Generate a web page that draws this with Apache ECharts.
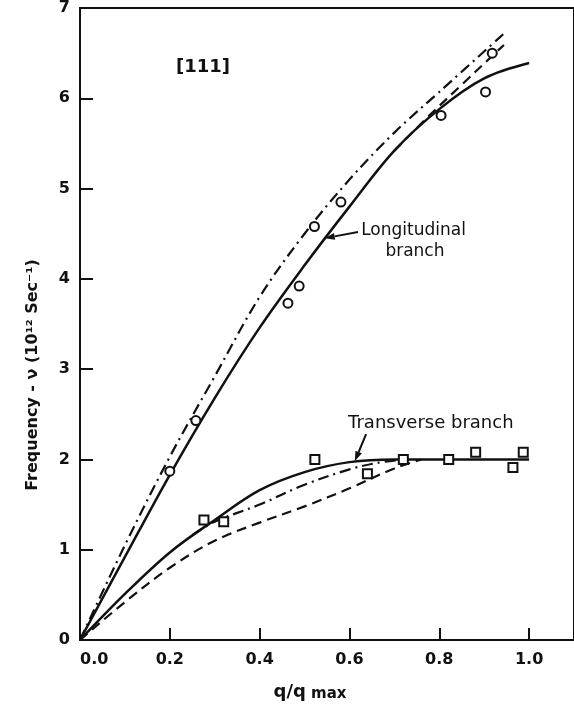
<!DOCTYPE html>
<html><head><meta charset="utf-8">
<script src="https://cdn.jsdelivr.net/npm/echarts@6/dist/echarts.min.js"></script>
<style>html,body{margin:0;padding:0;background:#fff}#c{width:574px;height:704px}</style>
</head><body><div id="c"></div>
<script>
// tick labels
const xTickLabels = ['0.0', '0.2', '0.4', '0.6', '0.8', '1.0'];
const yTickLabels = ['0', '1', '2', '3', '4', '5', '6', '7'];

// measured points
const longCirclesX = [0.200, 0.258, 0.463, 0.488, 0.522, 0.581, 0.804, 0.903, 0.918];
const longCirclesY = [1.87, 2.43, 3.73, 3.92, 4.58, 4.85, 5.81, 6.07, 6.50];
const transSquaresX = [0.276, 0.320, 0.523, 0.640, 0.720, 0.821, 0.881, 0.964, 0.987];
const transSquaresY = [1.33, 1.31, 2.00, 1.84, 2.00, 2.00, 2.08, 1.91, 2.08];

// longitudinal curves
const longSolidX = [0, 0.1, 0.2, 0.3, 0.4, 0.5, 0.6, 0.7, 0.8, 0.9, 1.0];
const longSolidY = [0, 0.92, 1.83, 2.68, 3.46, 4.15, 4.80, 5.42, 5.88, 6.22, 6.39];
const longDashDotX = [0, 0.1, 0.2, 0.3, 0.4, 0.5, 0.6, 0.7, 0.8, 0.947];
const longDashDotY = [0, 1.05, 2.03, 2.92, 3.80, 4.50, 5.10, 5.62, 6.07, 6.73];
const longDashedX = [0.7, 0.78, 0.85, 0.918, 0.944];
const longDashedY = [5.42, 5.82, 6.15, 6.47, 6.59];

// transverse curves
const transSolidX = [0, 0.1, 0.2, 0.3, 0.4, 0.5, 0.6, 0.7, 0.8, 0.9, 1.0];
const transSolidY = [0, 0.51, 0.97, 1.33, 1.66, 1.86, 1.97, 2.00, 2.00, 2.00, 2.00];
const transDashDotX = [0.25, 0.3, 0.4, 0.5, 0.6, 0.66, 0.72];
const transDashDotY = [1.16, 1.31, 1.50, 1.72, 1.89, 1.96, 2.00];
const transDashedX = [0, 0.1, 0.2, 0.3, 0.4, 0.5, 0.6, 0.7, 0.76];
const transDashedY = [0, 0.42, 0.80, 1.10, 1.30, 1.48, 1.68, 1.90, 2.00];

// annotation anchors (data coordinates)
const longArrowTail = [0.619, 4.52], longArrowTip = [0.545, 4.45];
const transArrowTail = [0.637, 2.28], transArrowTip = [0.612, 1.98];

const zip = (xs, ys) => xs.map((x, i) => [x, ys[i]]);
const INK = '#111';
const FONT = 'DejaVu Sans';

const chart = echarts.init(document.getElementById('c'));

function lineSeries(xs, ys, type, width) {
  return {
    type: 'line', data: zip(xs, ys), smooth: 0.35,
    symbol: 'none', silent: true, z: 3,
    lineStyle: { color: INK, width: width, type: type }
  };
}

const option = {
  animation: false,
  backgroundColor: '#fff',
  grid: { left: 80, top: 5, width: 497, height: 635, show: true, borderColor: INK, borderWidth: 2, containLabel: false },
  xAxis: {
    type: 'value', min: 0, max: 1.1, interval: 0.2,
    axisLine: { show: true, lineStyle: { color: INK, width: 2 } },
    axisTick: { show: true, inside: true, length: 12, lineStyle: { color: INK, width: 2 } },
    splitLine: { show: false },
    axisLabel: {
      margin: 12, fontSize: 16, fontWeight: 'bold', fontFamily: FONT, color: INK,
      alignMinLabel: 'left', showMaxLabel: false,
      formatter: v => { const s = v.toFixed(1); return xTickLabels.includes(s) ? s : ''; }
    }
  },
  yAxis: {
    type: 'value', min: 0, max: 7, interval: 1,
    axisLine: { show: true, lineStyle: { color: INK, width: 2 } },
    axisTick: { show: true, inside: true, length: 13, lineStyle: { color: INK, width: 2 } },
    splitLine: { show: false },
    axisLabel: {
      margin: 10, fontSize: 16, fontWeight: 'bold', fontFamily: FONT, color: INK,
      formatter: v => yTickLabels[Math.round(v)] || ''
    }
  },
  series: [
    lineSeries(longSolidX, longSolidY, 'solid', 2.5),
    lineSeries(longDashDotX, longDashDotY, [11, 5, 2, 5], 2.2),
    lineSeries(longDashedX, longDashedY, [10, 6], 2.2),
    lineSeries(transSolidX, transSolidY, 'solid', 2.5),
    lineSeries(transDashDotX, transDashDotY, [11, 5, 2, 5], 2.2),
    lineSeries(transDashedX, transDashedY, [10, 6], 2.2),
    {
      type: 'scatter', data: zip(longCirclesX, longCirclesY), symbol: 'circle', symbolSize: 9, z: 5,
      itemStyle: { color: '#fff', borderColor: INK, borderWidth: 2, opacity: 1 }
    },
    {
      type: 'scatter', data: zip(transSquaresX, transSquaresY), symbol: 'rect', symbolSize: 9, z: 5,
      itemStyle: { color: '#fff', borderColor: INK, borderWidth: 2, opacity: 1 }
    }
  ]
};
chart.setOption(option);

function px(p) { return chart.convertToPixel({ gridIndex: 0 }, p); }
function arrow(tailD, tipD) {
  const a = px(tailD), b = px(tipD);
  const dx = b[0] - a[0], dy = b[1] - a[1], L = Math.hypot(dx, dy);
  const ux = dx / L, uy = dy / L, len = 10, w = 3.5;
  const bx = b[0] - ux * len, by = b[1] - uy * len;
  return [
    { type: 'polyline', shape: { points: [a, [bx, by]] }, style: { stroke: INK, lineWidth: 2, fill: null }, z: 10 },
    { type: 'polygon', shape: { points: [b, [bx - uy * w, by + ux * w], [bx + uy * w, by - ux * w]] }, style: { fill: INK }, z: 10 }
  ];
}
const tBr = px([0.274, 6.34]);
const tLong = px([0.626, 4.54]);
const tLong2 = px([0.680, 4.30]);
const tTrans = px([0.597, 2.40]);
const txt = (x, y, text, size, align, weight) => ({
  type: 'text', x: x, y: y, z: 10,
  style: { text: text, fill: INK, font: (weight || 'normal') + ' ' + size + 'px "' + FONT + '"', textAlign: align || 'left', textVerticalAlign: 'middle' }
});
chart.setOption({
  graphic: [
    txt(tBr[0], tBr[1], '[111]', 18, 'center', 'bold'),
    txt(tLong[0], tLong[1], 'Longitudinal', 17),
    txt(tLong2[0], tLong2[1], 'branch', 17),
    txt(tTrans[0], tTrans[1], 'Transverse branch', 18),
    ...arrow(longArrowTail, longArrowTip),
    ...arrow(transArrowTail, transArrowTip),
    {
      type: 'text', x: 33, y: 375, rotation: Math.PI / 2, z: 10,
      style: { text: 'Frequency - \u03bd (10\u00b9\u00b2 Sec\u207b\u00b9)', fill: INK, font: 'bold 16px "' + FONT + '"', textAlign: 'center', textVerticalAlign: 'middle' }
    },
    {
      type: 'text', x: 310, y: 692, z: 10,
      style: {
        text: '{a|q/q}{b| max}', textAlign: 'center', textVerticalAlign: 'middle',
        rich: {
          a: { fontSize: 18, fontFamily: FONT, fontWeight: 'bold', fill: INK },
          b: { fontSize: 15, fontFamily: FONT, fontWeight: 'bold', fill: INK, padding: [4, 0, 0, 0] }
        }
      }
    }
  ]
});
</script></body></html>
